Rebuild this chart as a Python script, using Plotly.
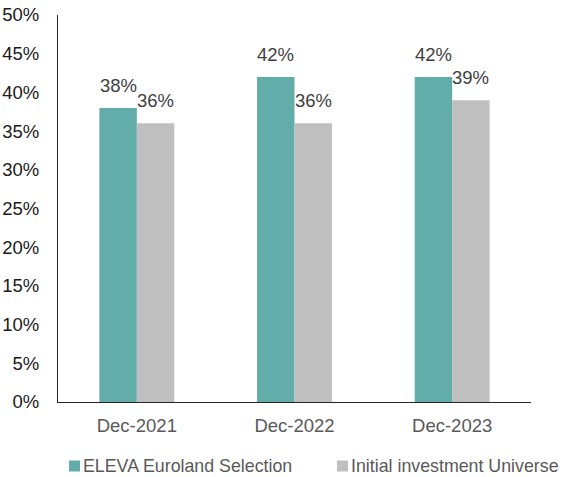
import plotly.graph_objects as go

# Share of portfolio by year-end
categories = ["Dec-2021", "Dec-2022", "Dec-2023"]
eleva_values = [0.38, 0.42, 0.42]
universe_values = [0.36, 0.36, 0.39]
series_names = ["ELEVA Euroland Selection", "Initial investment Universe"]
y_tick_values = [0, 0.05, 0.10, 0.15, 0.20, 0.25, 0.30, 0.35, 0.40, 0.45, 0.50]
y_tick_labels = ["0%", "5%", "10%", "15%", "20%", "25%", "30%", "35%", "40%", "45%", "50%"]

TEAL = "#62ACA9"
GREY = "#BFBFBF"
FONT = "Liberation Sans, Arial, sans-serif"
FS = 18.5
LEGEND_FS = 17.8
BARGAP = 0.525

W, H = 564, 477
ML, MR, MT, MB = 58, 33, 15, 75
PW, PH = W - ML - MR, H - MT - MB


def paper_x(px):
    return (px - ML) / PW


def paper_y(py):
    return (H - MB - py) / PH


series = [
    (series_names[0], eleva_values, TEAL),
    (series_names[1], universe_values, GREY),
]

fig = go.Figure()
for name, vals, color in series:
    fig.add_trace(go.Bar(
        name=name,
        x=categories,
        y=vals,
        marker=dict(color=color, line=dict(width=0)),
        showlegend=False,
    ))

# value labels centred above each bar of the group
bar_w = (1 - BARGAP) / len(series)
for s_idx, (name, vals, color) in enumerate(series):
    offset = -(1 - BARGAP) / 2 + bar_w * (s_idx + 0.5)
    for c_idx, v in enumerate(vals):
        fig.add_annotation(
            x=c_idx + offset, y=v, xref="x", yref="y",
            text=f"{v*100:.0f}%", showarrow=False,
            xanchor="center", yanchor="bottom", yshift=10,
            font=dict(family=FONT, size=FS, color="#404040"),
        )

# legend row below the axis: square swatch followed by the series name
legend_left = [69, 337]
swatch = 11
legend_mid = 466
for (name, vals, color), left in zip(series, legend_left):
    fig.add_shape(
        type="rect", xref="paper", yref="paper",
        x0=paper_x(left), x1=paper_x(left + swatch),
        y0=paper_y(legend_mid + swatch / 2), y1=paper_y(legend_mid - swatch / 2),
        fillcolor=color, line=dict(width=0), layer="above",
    )
    fig.add_annotation(
        x=paper_x(left + swatch + 1), y=paper_y(legend_mid),
        xref="paper", yref="paper",
        text=name, showarrow=False,
        xanchor="left", yanchor="middle",
        font=dict(family=FONT, size=LEGEND_FS, color="#595959"),
    )

fig.update_layout(
    width=W,
    height=H,
    margin=dict(l=ML, r=MR, t=MT, b=MB),
    paper_bgcolor="white",
    plot_bgcolor="white",
    barmode="group",
    bargap=BARGAP,
    bargroupgap=0,
    font=dict(family=FONT, size=FS, color="#595959"),
    showlegend=False,
    xaxis=dict(
        type="category",
        range=[-0.5, 2.5],
        showline=True,
        linecolor="#262626",
        linewidth=1,
        ticks="",
        showgrid=False,
        automargin=False,
        ticklabelstandoff=7,
        tickfont=dict(family=FONT, size=FS, color="#595959"),
    ),
    yaxis=dict(
        range=[0, 0.5],
        tickvals=y_tick_values,
        ticktext=y_tick_labels,
        showline=True,
        linecolor="#262626",
        linewidth=1,
        ticks="",
        showgrid=False,
        zeroline=False,
        automargin=False,
        ticklabelstandoff=14,
        tickfont=dict(family=FONT, size=FS, color="#1a1a1a"),
    ),
)

fig.write_html("out.html")
